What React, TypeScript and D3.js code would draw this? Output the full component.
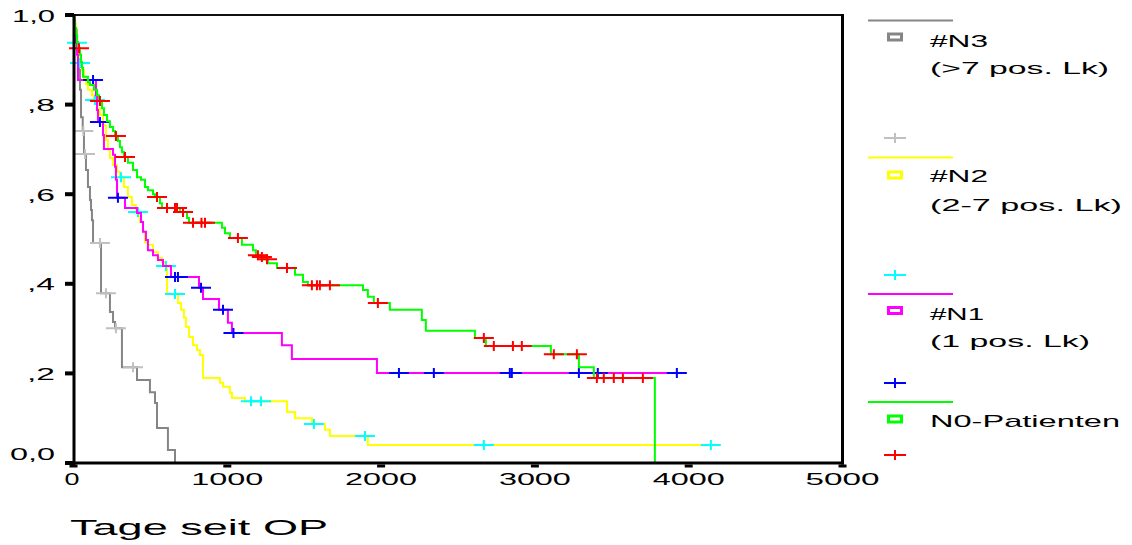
import React from 'react';
import * as d3 from 'd3';

const W = 1132;
const H = 545;

// #N3 (>7 pos. Lk)
const n3Times = [10, 23, 36, 42, 49, 60, 68, 81, 94, 107, 114, 120, 127, 179, 237, 257, 270, 315, 413, 497, 530, 543, 614, 660];
const n3Surv = [0.967, 0.922, 0.877, 0.833, 0.772, 0.741, 0.69, 0.654, 0.616, 0.587, 0.565, 0.542, 0.491, 0.379, 0.337, 0.315, 0.301, 0.214, 0.185, 0.158, 0.134, 0.078, 0.029, 0];
const n3Censored = [64, 75, 172, 211, 276, 387];

// #N2 (2-7 pos. Lk)
const n2Times = [6, 13, 19, 29, 36, 55, 68, 81, 94, 120, 133, 153, 172, 192, 211, 224, 237, 257, 283, 302, 328, 354, 380, 406, 432, 452, 465, 484, 517, 549, 575, 595, 608, 679, 699, 718, 731, 751, 777, 803, 822, 842, 952, 972, 1017, 1030, 1115, 1388, 1440, 1550, 1635, 1667, 1914];
const n2Surv = [0.984, 0.967, 0.938, 0.917, 0.893, 0.877, 0.859, 0.846, 0.833, 0.821, 0.81, 0.792, 0.777, 0.754, 0.721, 0.699, 0.681, 0.665, 0.65, 0.638, 0.616, 0.594, 0.576, 0.56, 0.538, 0.516, 0.493, 0.487, 0.471, 0.458, 0.449, 0.44, 0.377, 0.357, 0.342, 0.324, 0.304, 0.281, 0.263, 0.252, 0.241, 0.19, 0.179, 0.17, 0.156, 0.145, 0.138, 0.114, 0.1, 0.087, 0.074, 0.06, 0.04];
const n2Censored = [23, 42, 140, 309, 419, 601, 660, 1154, 1219, 1563, 1895, 2668, 4144];

// #N1 (1 pos. Lk)
const n1Times = [3, 10, 16, 23, 29, 146, 153, 159, 192, 198, 257, 270, 276, 283, 335, 413, 439, 452, 471, 484, 517, 549, 582, 634, 816, 842, 946, 1004, 1030, 1355, 1420, 1973];
const n1Surv = [0.984, 0.962, 0.94, 0.911, 0.855, 0.821, 0.788, 0.761, 0.732, 0.701, 0.688, 0.661, 0.632, 0.592, 0.569, 0.558, 0.538, 0.516, 0.498, 0.475, 0.464, 0.453, 0.44, 0.415, 0.391, 0.366, 0.342, 0.313, 0.29, 0.263, 0.232, 0.201];
const n1Censored = [127, 172, 289, 660, 679, 829, 972, 1040, 2116, 2343, 2837, 2850, 3286, 3409, 3923];

// N0-Patienten
const n0Times = [3, 10, 16, 23, 29, 42, 49, 55, 62, 94, 107, 133, 153, 166, 185, 198, 218, 237, 257, 270, 289, 302, 315, 328, 354, 387, 413, 439, 465, 484, 517, 530, 562, 575, 692, 738, 751, 965, 985, 1017, 1095, 1167, 1186, 1212, 1238, 1264, 1323, 1440, 1492, 1524, 1882, 1914, 1953, 2057, 2265, 2291, 2610, 2681, 3104, 3286, 3383, 3780];
const n0Surv = [0.989, 0.971, 0.955, 0.94, 0.926, 0.911, 0.895, 0.882, 0.862, 0.85, 0.844, 0.833, 0.821, 0.808, 0.792, 0.777, 0.763, 0.75, 0.741, 0.73, 0.719, 0.705, 0.694, 0.683, 0.67, 0.654, 0.638, 0.632, 0.616, 0.609, 0.6, 0.594, 0.58, 0.569, 0.56, 0.547, 0.536, 0.525, 0.513, 0.502, 0.487, 0.475, 0.464, 0.46, 0.455, 0.446, 0.435, 0.42, 0.404, 0.397, 0.386, 0.371, 0.357, 0.342, 0.319, 0.295, 0.279, 0.261, 0.243, 0.214, 0.19, 0];
const n0Censored = [36, 172, 276, 335, 543, 608, 660, 673, 712, 777, 832, 855, 1069, 1199, 1225, 1258, 1388, 1550, 1583, 1602, 1667, 1979, 2668, 2733, 2857, 2915, 3123, 3273, 3403, 3448, 3513, 3572, 3702];

const xTicks = [0, 1000, 2000, 3000, 4000, 5000];
const xTickLabels = ['0', '1000', '2000', '3000', '4000', '5000'];
const yTicks = [0, 0.2, 0.4, 0.6, 0.8, 1.0];
const yTickLabels = ['0,0', ',2', ',4', ',6', ',8', '1,0'];
const xTitle = 'Tage seit OP';

const seriesLabels = [
  ['#N3', '(>7 pos. Lk)'],
  ['#N2', '(2-7 pos. Lk)'],
  ['#N1', '(1 pos. Lk)'],
  ['N0-Patienten'],
];

const FONT = '"Liberation Sans", Arial, sans-serif';

const series = [
  { times: n3Times, surv: n3Surv, cens: n3Censored, line: '#858585', mark: '#c0c0c0' },
  { times: n2Times, surv: n2Surv, cens: n2Censored, line: '#ffff00', mark: '#00ffff' },
  { times: n1Times, surv: n1Surv, cens: n1Censored, line: '#ff00ff', mark: '#0000ff' },
  { times: n0Times, surv: n0Surv, cens: n0Censored, line: '#00ff00', mark: '#ff0000' },
];

const x = d3.scaleLinear().domain([0, 5000]).range([73.5, 842.5]);
const y = d3.scaleLinear().domain([0, 1]).range([463, 15]);

function survAt(times: number[], surv: number[], t: number) {
  let s = 1;
  for (let i = 0; i < times.length; i++) {
    if (times[i] <= t) s = surv[i];
    else break;
  }
  return s;
}

const stepLine = d3
  .line<[number, number]>()
  .x((d) => x(d[0]))
  .y((d) => y(d[1]))
  .curve(d3.curveStepAfter);

function crossPath(cx: number, cy: number, hw = 10, hh = 5) {
  return `M${cx - hw},${cy}h${hw * 2}M${cx},${cy - hh}v${hh * 2}`;
}

// legend layout (pixel positions)
const legendBlocks = [
  { lineY: 20.5, boxY: 37, texts: [{ y: 47, w: 58 }, { y: 74, w: 179 }], crossY: 138 },
  { lineY: 157.5, boxY: 175, texts: [{ y: 182, w: 58 }, { y: 211, w: 192 }], crossY: 275 },
  { lineY: 294, boxY: 310.5, texts: [{ y: 320, w: 54 }, { y: 347, w: 160 }], crossY: 383 },
  { lineY: 402, boxY: 419, texts: [{ y: 427, w: 190 }], crossY: 455 },
];

const yLabelW: Record<string, number> = { '1,0': 43, '0,0': 45, ',8': 28, ',6': 28, ',4': 28, ',2': 28 };
const xLabelW: Record<string, number> = { '0': 15, '1000': 72, '2000': 72, '3000': 72, '4000': 72, '5000': 74 };

export default function App() {
  return (
    <svg
      width={W}
      height={H}
      viewBox={`0 0 ${W} ${H}`}
      style={{ position: 'absolute', left: 0, top: 0, background: '#fff', display: 'block' }}
      fontFamily={FONT}
    >
      <rect x={0} y={0} width={W} height={H} fill="#fff" />
      {/* curves */}
      {series.map((s, i) => {
        const pts: [number, number][] = [[0, 1]];
        s.times.forEach((t, j) => pts.push([t, s.surv[j]]));
        const lastT = s.times[s.times.length - 1];
        const lastC = d3.max(s.cens) ?? 0;
        if (lastC > lastT) pts.push([lastC, s.surv[s.surv.length - 1]]);
        return (
          <g key={i}>
            <path d={stepLine(pts) ?? ''} fill="none" stroke={s.line} strokeWidth={2} />
            {s.cens.map((c, k) => (
              <path
                key={k}
                d={crossPath(x(c), y(survAt(s.times, s.surv, c)))}
                stroke={s.mark}
                strokeWidth={2}
                fill="none"
              />
            ))}
          </g>
        );
      })}

      {/* frame */}
      <line x1={x(0)} x2={x(5000)} y1={15} y2={15} stroke="#111" strokeWidth={2} />
      <line x1={x(5000)} x2={x(5000)} y1={14} y2={464.5} stroke="#000" strokeWidth={3} />
      <line x1={74} x2={74} y1={14} y2={465} stroke="#000" strokeWidth={3} />
      <line x1={72.5} x2={x(5000) + 1.5} y1={463} y2={463} stroke="#000" strokeWidth={3} />

      {/* y ticks & labels */}
      {yTicks.map((v, i) => (
        <g key={i}>
          <line x1={65} x2={74} y1={y(v)} y2={y(v)} stroke="#000" strokeWidth={4} />
          <text
            x={55}
            y={v === 0 ? 460 : y(v) + 6.5}
            textAnchor="end"
            fontSize={16}
            textLength={yLabelW[yTickLabels[i]]}
            lengthAdjust="spacingAndGlyphs"
            fill="#000"
          >
            {yTickLabels[i]}
          </text>
        </g>
      ))}

      {/* x ticks & labels */}
      {xTicks.map((v, i) => (
        <g key={i}>
          <line x1={x(v) - 4} x2={x(v) + 4} y1={466} y2={466} stroke="#000" strokeWidth={3} />
          <text
            x={x(v) - (v === 0 ? 1.5 : 0)}
            y={485}
            textAnchor="middle"
            fontSize={17}
            textLength={xLabelW[xTickLabels[i]]}
            lengthAdjust="spacingAndGlyphs"
            fill="#000"
          >
            {xTickLabels[i]}
          </text>
        </g>
      ))}
      <text x={70} y={535} fontSize={22} textLength={258} lengthAdjust="spacingAndGlyphs" fill="#000">
        {xTitle}
      </text>

      {/* legend */}
      {series.map((s, i) => {
        const b = legendBlocks[i];
        return (
          <g key={i}>
            <line x1={868} x2={953} y1={b.lineY} y2={b.lineY} stroke={s.line} strokeWidth={2} />
            <rect x={888.5} y={b.boxY - 3} width={13} height={6} fill="none" stroke={s.line} strokeWidth={3} />
            {seriesLabels[i].map((txt, k) => (
              <text
                key={k}
                x={930}
                y={b.texts[k].y}
                fontSize={17}
                textLength={b.texts[k].w}
                lengthAdjust="spacingAndGlyphs"
                fill="#000"
              >
                {txt}
              </text>
            ))}
            <path d={crossPath(895, b.crossY, 11, 5)} stroke={s.mark} strokeWidth={2} fill="none" />
          </g>
        );
      })}
    </svg>
  );
}
